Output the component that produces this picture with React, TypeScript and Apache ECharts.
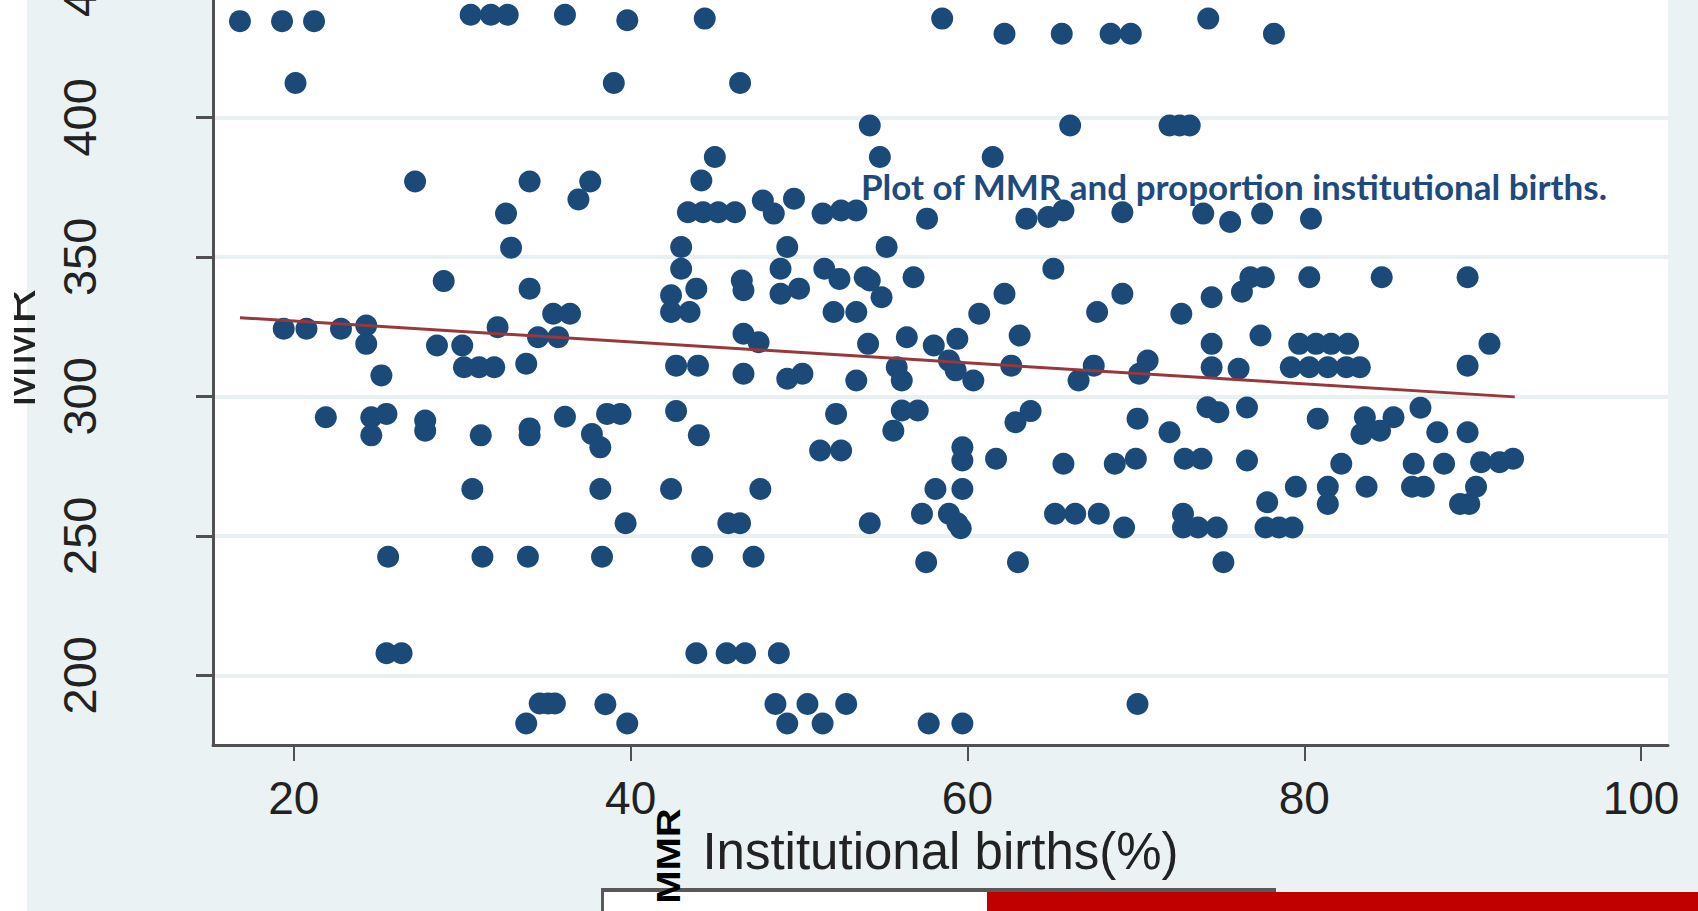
import React, { useEffect, useRef } from "react";
import * as echarts from "echarts";

// Institutional births (%) for each district point
const birthsPct = [
  16.8, 19.3, 21.2, 20.1, 30.5, 31.7, 32.7, 36.1, 27.2, 34.0,
  37.6, 36.9, 32.6, 32.9, 28.9, 34.0, 35.4, 36.4, 19.4, 20.75,
  22.8, 24.3, 24.3, 28.5, 30.0, 32.1, 34.5, 35.7, 25.2, 30.1,
  31.0, 31.9, 33.8, 21.9, 24.6, 25.5, 24.6, 27.8, 27.8, 31.1,
  34.0, 34.0, 36.1, 37.7, 38.2, 30.6, 38.2, 25.6, 31.2, 33.9,
  38.3, 25.5, 26.4, 34.6, 35.1, 35.5, 33.8, 38.5, 39.8,
  38.6, 39.4, 42.7, 44.05, 42.4, 47.7, 39.7, 45.8, 46.5, 44.25,
  47.3, 52.2, 51.25, 52.5, 56.1, 57.05, 55.6, 59.7, 59.7, 61.7,
  58.1, 59.7, 54.2, 57.3, 58.9, 59.4, 59.6, 65.2, 66.4, 67.8,
  69.3, 57.55, 63.0, 65.7, 68.75, 70.0, 70.1, 62.85, 63.75, 43.9,
  45.7, 46.8, 48.8, 48.6, 50.5, 52.8, 49.3, 51.4, 57.7, 59.7,
  70.1,
  72.0, 74.25, 74.9, 76.6, 72.9, 73.9, 76.6, 72.8, 72.8, 73.7,
  74.8, 75.2, 77.8, 77.7, 78.5, 79.3, 79.5, 81.4, 81.4, 80.8,
  82.2, 83.7, 83.6, 83.4, 84.5, 85.3, 86.9, 87.9, 89.7, 86.5,
  88.3, 86.4, 87.1, 90.5, 91.6, 92.4, 90.2, 89.25, 89.8,
  39.8, 44.4, 58.5, 62.2, 65.6, 68.5, 69.7, 39.0, 46.5, 54.2,
  66.1, 45.0, 54.8, 61.5, 44.2, 43.4, 44.3, 45.2, 46.2, 47.85,
  49.7, 48.5, 51.4, 52.5, 53.4, 57.6, 63.5, 64.8, 65.7, 69.2,
  43.0, 49.3, 55.2, 43.0, 48.9, 65.1, 46.6, 46.7, 43.9, 42.4,
  42.4, 43.5, 48.9, 50.0, 51.5, 52.4, 53.9, 54.2, 54.9, 56.8,
  52.05, 53.4, 62.2, 60.7, 69.2, 67.7, 46.7, 47.6, 54.1, 56.4,
  58.0, 59.4, 63.1, 42.7, 44.0, 46.7, 49.3, 50.2, 53.4, 55.8,
  56.1, 58.9, 59.3, 60.35, 62.6, 66.6, 67.5, 70.2, 70.7,
  74.3, 78.2, 72.0, 72.6, 73.2, 74.0, 75.6, 77.5, 80.4, 76.8,
  77.6, 80.3, 84.6, 89.7, 74.5, 76.3, 72.7, 74.5, 77.4, 79.7,
  80.7, 81.6, 82.6, 79.2, 80.3, 81.4, 82.5, 83.3, 74.5, 76.1,
  91.0, 89.7,
];

// MMR for each district point (same order)
const mmr = [
  434.5, 434.5, 434.5, 412.3, 436.8, 436.8, 436.8, 436.8, 377, 377,
  377, 370.6, 365.5, 353.3, 341.3, 338.6, 329.6, 329.6, 324.2, 324.2,
  324.2, 325.4, 318.8, 318.2, 318.2, 324.8, 321.2, 321.2, 307.5, 310.4,
  310.4, 310.4, 311.7, 292.5, 292.5, 293.7, 286.0, 291.3, 287.7, 286.0,
  288.5, 286.0, 292.7, 286.5, 281.7, 266.8, 266.8, 242.5, 242.5, 242.5,
  242.5, 207.9, 207.9, 189.9, 189.9, 189.9, 182.7, 189.6, 182.7,
  293.7, 293.7, 294.7, 286.0, 266.8, 266.8, 254.5, 254.5, 254.5, 242.5,
  242.5, 293.7, 280.6, 280.6, 294.9, 294.9, 287.7, 281.7, 277.0, 277.6,
  266.8, 266.8, 254.5, 257.9, 257.9, 254.5, 252.7, 257.9, 257.9, 257.9,
  253.0, 240.5, 240.5, 275.8, 275.8, 277.6, 292.0, 290.7, 294.7, 207.9,
  207.9, 207.9, 207.9, 189.7, 189.7, 189.7, 182.7, 182.7, 182.7, 182.7,
  189.7,
  287.1, 296.1, 294.3, 296.0, 277.6, 277.6, 277.0, 257.9, 253.0, 253.0,
  253.0, 240.5, 262.0, 253.0, 253.0, 253.0, 267.6, 267.6, 261.4, 292.0,
  275.8, 267.6, 292.5, 286.5, 287.7, 292.5, 295.9, 287.1, 287.1, 275.8,
  275.8, 267.6, 267.6, 276.4, 276.4, 277.6, 267.6, 261.4, 261.4,
  434.8, 435.4, 435.4, 430, 430, 430, 430, 412.3, 412.3, 397.1,
  397.1, 385.8, 385.8, 385.8, 377.4, 366, 366, 366, 366, 370.2,
  370.8, 365.5, 365.5, 366.6, 366.6, 363.7, 363.7, 364.3, 366.6, 366.0,
  353.5, 353.5, 353.5, 345.7, 345.7, 345.7, 341.5, 338.0, 338.6, 336.2,
  330.2, 330.2, 336.8, 338.6, 345.7, 342.1, 342.7, 341.5, 335.5, 342.7,
  330.2, 330.2, 336.8, 329.6, 336.8, 330.2, 322.4, 319.4, 318.8, 321.2,
  318.2, 320.6, 321.8, 311.0, 311.0, 308.1, 306.3, 308.1, 305.7, 310.4,
  305.7, 312.8, 309.3, 305.7, 311.0, 305.7, 311.0, 308.1, 312.8,
  435.4, 430, 397.1, 397.1, 397.1, 365.5, 362.5, 365.5, 363.7, 342.7,
  342.7, 342.7, 342.7, 342.7, 335.5, 337.5, 329.6, 318.8, 321.8, 318.8,
  318.8, 318.8, 318.8, 310.4, 310.4, 310.4, 310.4, 310.4, 310.4, 309.9,
  318.8, 311.0,
];

// Fitted regression line end points
const fitX = [16.8, 92.5];
const fitY = [328.2, 299.8];

const xTicks = [20, 40, 60, 80, 100];
const yTicks = [200, 250, 300, 350, 400, 450];

const FONT = "'Liberation Sans', Arial, sans-serif";
const OFFSET = 50; // chart div is shifted up by this many px (top of plot is cropped)

export default function App() {
  const ref = useRef<HTMLDivElement>(null);
  useEffect(() => {
    const chart = echarts.init(ref.current!, null, { renderer: "svg" });
    const pts = birthsPct.map((x, i) => [x, mmr[i]]);
    const fit = fitX.map((x, i) => [x, fitY[i]]);
    chart.setOption({
      animation: false,
      backgroundColor: "#eaf2f3",
      grid: {
        left: 213,
        right: 30,
        top: 0,
        bottom: 166,
        containLabel: false,
        outerBoundsMode: "none",
        show: true,
        backgroundColor: "#ffffff",
        borderWidth: 0,
      },
      xAxis: {
        type: "value",
        min: 15.2,
        max: 101.6,
        axisLine: { show: true, onZero: false, lineStyle: { color: "#505050", width: 3 } },
        axisTick: { show: true, length: 16, lineStyle: { color: "#505050", width: 2 }, customValues: xTicks },
        axisLabel: { customValues: xTicks, fontSize: 46, color: "#222222", margin: 30, fontFamily: FONT },
        splitLine: { show: false },
        name: "Institutional births(%)",
        nameLocation: "middle",
        nameGap: 70,
        nameTextStyle: { fontSize: 51, color: "#222222", fontFamily: FONT },
      },
      yAxis: {
        type: "value",
        min: 175,
        max: 460,
        axisLine: { show: true, onZero: false, lineStyle: { color: "#505050", width: 3 } },
        axisTick: { show: true, length: 17, lineStyle: { color: "#505050", width: 3 }, customValues: yTicks },
        axisLabel: { customValues: yTicks, fontSize: 47, color: "#222222", margin: 110, rotate: 90, fontFamily: FONT },
        splitLine: { show: true, lineStyle: { color: "#e9f0f2", width: 4 } },
        name: "MMR",
        nameLocation: "middle",
        nameGap: 170,
        nameTextStyle: { fontSize: 50, color: "#222222", fontFamily: FONT },
      },
      series: [
        {
          type: "scatter",
          data: pts,
          symbol: "circle",
          symbolSize: 22,
          itemStyle: { color: "#1b4a78", opacity: 1 },
          clip: true,
        },
        {
          type: "line",
          data: fit,
          symbol: "none",
          lineStyle: { color: "#97383d", width: 3 },
          clip: true,
        },
      ],
      graphic: [
        { type: "rect", z: -1, shape: { x: 0, y: 0, width: 27, height: 1100 }, style: { fill: "#ffffff" } },
        { type: "rect", z: 100, shape: { x: 0, y: 0, width: 14, height: 1100 }, style: { fill: "#ffffff" } },
        {
          type: "text",
          z: 50,
          x: 861,
          y: 186 + OFFSET,
          style: {
            text: "Plot of MMR and proportion institutional births.",
            fontFamily: "Lato, 'Open Sans', sans-serif",
            fontWeight: "bold",
            fontSize: 35,
            fill: "#1f4a7e",
            align: "left",
            verticalAlign: "middle",
          },
        },
        { type: "rect", z: 50, shape: { x: 601, y: 888 + OFFSET, width: 675, height: 40 }, style: { fill: "#595959" } },
        { type: "rect", z: 51, shape: { x: 604, y: 892 + OFFSET, width: 672, height: 40 }, style: { fill: "#ffffff" } },
        { type: "rect", z: 52, shape: { x: 987, y: 892 + OFFSET, width: 711, height: 40 }, style: { fill: "#c00000" } },
        {
          type: "text",
          z: 60,
          x: 668,
          y: 856 + OFFSET,
          rotation: Math.PI / 2,
          scaleX: 1,
          scaleY: 0.85,
          style: {
            text: "MMR",
            fontFamily: FONT,
            fontWeight: "bold",
            fontSize: 40,
            fill: "#000000",
            align: "center",
            verticalAlign: "middle",
          },
        },
      ],
    });
    return () => chart.dispose();
  }, []);
  return (
    <div
      ref={ref}
      style={{ position: "absolute", left: 0, top: -OFFSET, width: 1698, height: 911 + OFFSET }}
    />
  );
}
